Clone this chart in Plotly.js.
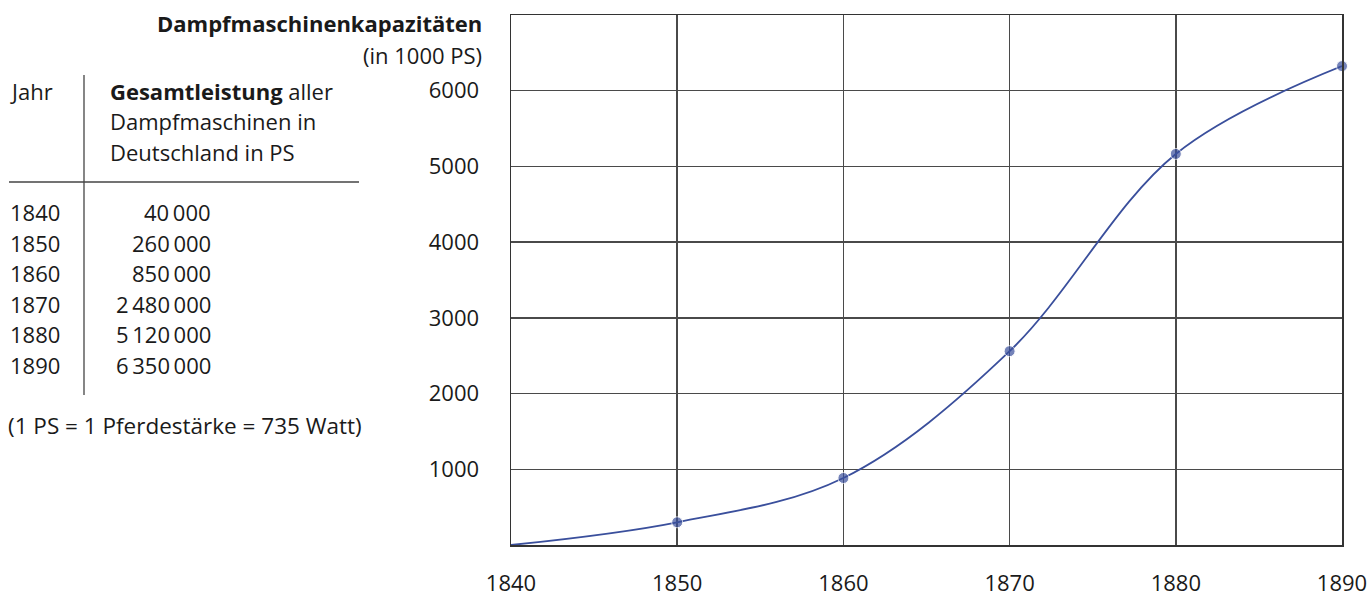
<!DOCTYPE html>
<html>
<head>
<meta charset="utf-8">
<script src="https://cdn.plot.ly/plotly-3.0.1.min.js"></script>
<style>html,body{margin:0;padding:0;background:#fff;}#chart{width:1370px;height:597px;}</style>
</head>
<body>
<div id="chart"></div>
<script>
// Chart data (in 1000 PS)
const years = [1840, 1850, 1860, 1870, 1880, 1890];
const capacity = [0, 300, 885, 2560, 5165, 6325];
const markerShown = [false, true, true, true, true, true];
// Table data
const tableYears = ["1840", "1850", "1860", "1870", "1880", "1890"];
const tableValues = ["40\u2009000", "260\u2009000", "850\u2009000", "2\u2009480\u2009000", "5\u2009120\u2009000", "6\u2009350\u2009000"];
const yTicks = [1000, 2000, 3000, 4000, 5000, 6000];
const xTicks = [1840, 1850, 1860, 1870, 1880, 1890];

const W = 1370, H = 597;
const M = {l: 511, r: 28, t: 15, b: 52};
const PW = W - M.l - M.r, PH = H - M.t - M.b;
const px = x => (x - M.l) / PW;
const py = y => (H - M.b - y) / PH;

const FONT = "Open Sans, Noto Sans, sans-serif";
const FS = 22;
const TXT = "#1a1a1a";
const LINE = "#3a4f9c";

const annotations = [];
function txt(text, x, y, anchor, bold, size) {
  annotations.push({xref: "paper", yref: "paper", x: px(x), y: py(y), text: bold ? "<b>" + text + "</b>" : text,
    showarrow: false, xanchor: anchor, yanchor: "middle", font: {family: FONT, size: size || FS, color: TXT}});
}
txt("Dampfmaschinenkapazitäten", 484, 23, "right", true);
txt("(in 1000 PS)", 484, 55, "right", false);
txt("Jahr", 8, 91, "left", false);
txt("<b>Gesamtleistung</b> aller", 108, 91, "left", false);
txt("Dampfmaschinen in", 108, 121, "left", false);
txt("Deutschland in PS", 108, 152, "left", false);
tableYears.forEach((yr, i) => {
  txt(yr, 8, 212 + i * 30.6, "left", false);
  txt(tableValues[i], 213, 212 + i * 30.6, "right", false);
});
txt("(1 PS = 1 Pferdestärke = 735 Watt)", 6, 425, "left", false, 22.5);

const shapes = [
  {type: "line", xref: "paper", yref: "paper", x0: px(84), x1: px(84), y0: py(75), y1: py(395), line: {color: "#444", width: 1.3}},
  {type: "line", xref: "paper", yref: "paper", x0: px(9), x1: px(359), y0: py(182), y1: py(182), line: {color: "#444", width: 1.3}}
];

const trace = {
  x: years, y: capacity, type: "scatter", mode: "lines+markers",
  line: {shape: "spline", smoothing: 1, color: LINE, width: 1.8},
  marker: {size: markerShown.map(s => s ? 11 : 0), color: LINE},
  cliponaxis: false, hoverinfo: "skip"
};

const layout = {
  width: W, height: H, margin: M, showlegend: false,
  paper_bgcolor: "#fff", plot_bgcolor: "#fff",
  font: {family: FONT, size: FS, color: TXT},
  xaxis: {range: [1840, 1890], tickvals: xTicks, ticks: "", ticklabelstandoff: 18,
    showgrid: true, gridcolor: "#4a4a4a", gridwidth: 1.5, zeroline: false,
    showline: true, linecolor: "#333", linewidth: 1.5, mirror: true,
    tickfont: {family: FONT, size: FS, color: TXT}},
  yaxis: {range: [0, 7000], tickvals: yTicks, ticks: "", ticklabelstandoff: 26,
    showgrid: true, gridcolor: "#4a4a4a", gridwidth: 1.5, zeroline: false,
    showline: true, linecolor: "#333", linewidth: 1.5, mirror: true,
    tickfont: {family: FONT, size: FS, color: TXT}},
  annotations: annotations, shapes: shapes
};

Plotly.newPlot("chart", [trace], layout, {staticPlot: true, displayModeBar: false});
</script>
</body>
</html>
